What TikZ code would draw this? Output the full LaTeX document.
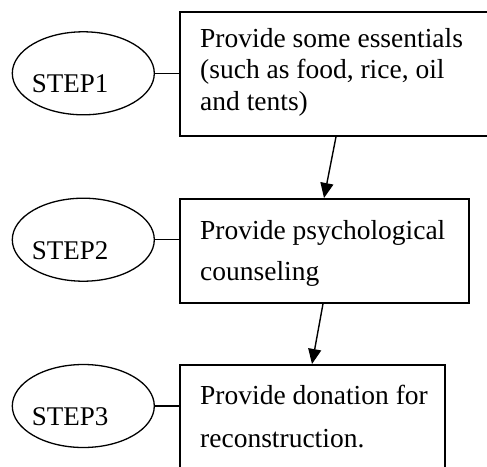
\documentclass[tikz,border=0pt]{standalone}
\usepackage{fontspec}
\setmainfont{Liberation Serif}
\usetikzlibrary{arrows.meta,shapes.geometric}
\begin{document}
\begin{tikzpicture}[x=1pt,y=-1pt,
  stepell/.style={draw, ellipse, line width=1.3pt, minimum width=142pt, minimum height=83pt, inner sep=0pt},
  boxrect/.style={draw, rectangle, line width=1.8pt, inner sep=0pt, anchor=north west},
  txt/.style={inner sep=0pt, align=left, anchor=base west},
  link/.style={line width=1.3pt},
  flow/.style={line width=1.4pt, -{Triangle[length=15pt,width=13pt]}}]
\useasboundingbox (0,0) rectangle (487,466);
\clip (0,0) rectangle (487,466);
% ellipses
\node[stepell] (e1) at (83.3,73.3) {};
\node[stepell] (e2) at (83.3,239.7) {};
\node[stepell] (e3) at (83.3,406) {};
\node[txt, font=\fontsize{27}{31.5}\selectfont] (l1) at (31.7,92.7) {STEP1};
\node[txt, font=\fontsize{27}{31.5}\selectfont] (l2) at (31.7,259) {STEP2};
\node[txt, font=\fontsize{27}{31.5}\selectfont] (l3) at (31.7,425) {STEP3};
% boxes
\node[boxrect, minimum width=313pt, minimum height=124pt] (b1) at (179,11) {};
\node[boxrect, minimum width=289pt, minimum height=104pt] (b2) at (179,198) {};
\node[boxrect, minimum width=265pt, minimum height=116pt] (b3) at (179,364) {};
% texts: base anchor of a multi-line node is the baseline of its last line
\node[txt, font=\fontsize{27.5}{31.5}\selectfont] (t1) at (200,110) {Provide some essentials\\(such as food, rice, oil\\and tents)};
\node[txt, font=\fontsize{27.5}{41}\selectfont] (t2) at (200,280) {Provide psychological\\counseling};
\node[txt, font=\fontsize{27.5}{43}\selectfont] (t3) at (200,447) {Provide donation for\\reconstruction.};
% connectors
\draw[link] (e1.east) -- (e1.east -| b1.west);
\draw[link] (e2.east) -- (e2.east -| b2.west);
\draw[link] (e3.east) -- (e3.east -| b3.west);
\draw[flow] ([xshift=157pt]b1.south west) -- ([xshift=145pt]b2.north west);
\draw[flow] ([xshift=144pt]b2.south west) -- ([xshift=133pt]b3.north west);
\end{tikzpicture}
\end{document}
